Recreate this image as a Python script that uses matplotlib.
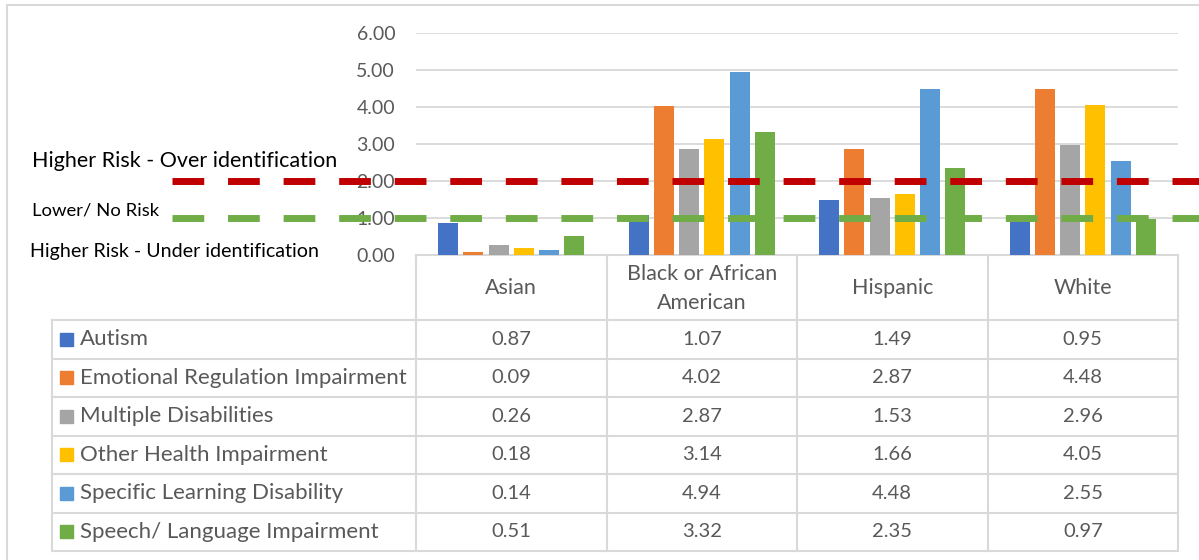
import numpy as np
import matplotlib
matplotlib.use("Agg")
from matplotlib import pyplot as plt
from matplotlib.transforms import blended_transform_factory

plt.rcParams['font.family'] = ['Lato', 'DejaVu Sans']

# risk ratios by race / disability category
groups = ['Asian', 'Black or African\nAmerican', 'Hispanic', 'White']
series = ['Autism', 'Emotional Regulation Impairment', 'Multiple Disabilities',
          'Other Health Impairment', 'Specific Learning Disability',
          'Speech/ Language Impairment']
autism = [0.87, 1.07, 1.49, 0.95]
emotional = [0.09, 4.02, 2.87, 4.48]
multiple = [0.26, 2.87, 1.53, 2.96]
other_health = [0.18, 3.14, 1.66, 4.05]
learning = [0.14, 4.94, 4.48, 2.55]
speech = [0.51, 3.32, 2.35, 0.97]
colors = ['#4472C4', '#ED7D31', '#A5A5A5', '#FFC000', '#5B9BD5', '#70AD47']

over_level = 2.0
under_level = 1.0
yticks = [0, 1, 2, 3, 4, 5, 6]

values = [autism, emotional, multiple, other_health, learning, speech]

W, H = 1199, 560
fig = plt.figure(figsize=(W / 100, H / 100), dpi=100)

# pixel-space axes for frame, table and side labels
px = fig.add_axes([0, 0, 1, 1])
px.set_xlim(0, W)
px.set_ylim(H, 0)
px.axis('off')

grid_c = '#D9D9D9'
txt_c = '#595959'

# outer frame
px.plot([7, 7, W + 5], [H + 5, 5, 5], color=grid_c, lw=1.5)

# bar axes
left, right, y0, ytop = 416, 1178, 255, 33
ax = fig.add_axes([left / W, 1 - y0 / H, (right - left) / W, (y0 - ytop) / H])
ax.patch.set_alpha(0)
ax.set_xlim(-0.5, len(groups) - 0.5)
ax.set_ylim(0, 6)
ax.set_yticks(yticks)
ax.set_yticklabels([f'{t:.2f}' for t in yticks], fontsize=14, color=txt_c)
ax.tick_params(axis='y', length=0, pad=15)
ax.set_xticks([])
ax.grid(axis='y', color=grid_c, lw=1.3)
ax.set_axisbelow(True)
for s in ax.spines.values():
    s.set_visible(False)

x = np.arange(len(groups))
bw = 0.105
step = 0.1325
for i, (vals, c) in enumerate(zip(values, colors)):
    ax.bar(x + (i - 2.5) * step, vals, width=bw, color=c, zorder=3)

# threshold dashes across the whole chart
tr = blended_transform_factory(fig.transFigure, ax.transData)
for lvl, c in [(over_level, '#C00000'), (under_level, '#70AD47')]:
    ax.plot([172 / W, 1.0], [lvl, lvl], transform=tr, color=c, lw=5,
            dashes=(32 / 7, 24 / 7), solid_capstyle='butt', dash_capstyle='butt',
            clip_on=False, zorder=6)

px.text(32, 161, 'Higher Risk - Over identification', fontsize=15.5, color='black',
        va='center', ha='left')
px.text(32, 210, 'Lower/ No Risk', fontsize=13.3, color='black', va='center', ha='left')
px.text(30, 251, 'Higher Risk - Under identification', fontsize=14.1, color='black',
        va='center', ha='left')

# data table under the bars
col_edges = np.linspace(left, right, len(groups) + 1)
lab_left = 52
head_top, head_bot = y0, 320
row_h = (551 - head_bot) / len(series)
row_edges = head_bot + row_h * np.arange(len(series) + 1)

lw_t = 1.5
px.plot([left, right], [head_top, head_top], color=grid_c, lw=lw_t)
for xe in col_edges:
    px.plot([xe, xe], [head_top, row_edges[-1]], color=grid_c, lw=lw_t)
px.plot([lab_left, lab_left], [head_bot, row_edges[-1]], color=grid_c, lw=lw_t)
for ye in row_edges:
    px.plot([lab_left, right], [ye, ye], color=grid_c, lw=lw_t)

for j, g in enumerate(groups):
    cx = (col_edges[j] + col_edges[j + 1]) / 2
    px.text(cx, (head_top + head_bot) / 2 + 1, g, fontsize=15.5, color=txt_c,
            ha='center', va='center', linespacing=1.55)

for i, (name, vals, c) in enumerate(zip(series, values, colors)):
    cy = (row_edges[i] + row_edges[i + 1]) / 2
    px.add_patch(plt.Rectangle((60, cy - 6.5), 13, 13, color=c))
    px.text(80, cy, name, fontsize=16, color=txt_c, ha='left', va='center')
    for j, v in enumerate(vals):
        cx = (col_edges[j] + col_edges[j + 1]) / 2
        px.text(cx, cy, f'{v:.2f}', fontsize=14.5, color=txt_c, ha='center', va='center')

fig.savefig('out.png', dpi=100)
